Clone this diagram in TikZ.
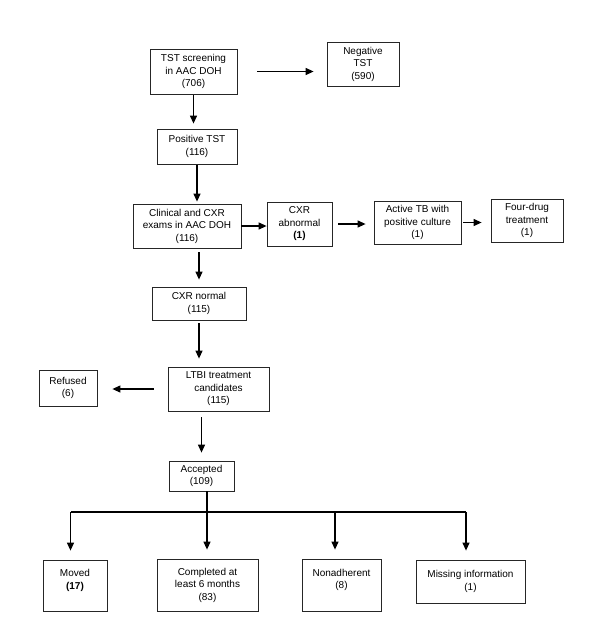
\documentclass[tikz,border=0pt]{standalone}
\usepackage{fontspec}
\setmainfont{Liberation Sans}
\usetikzlibrary{arrows.meta}

\begin{document}
\begin{tikzpicture}[x=1pt, y=-1pt,
  box/.style={draw=black!85, line width=0.8pt, align=center, inner sep=2pt,
    font=\fontsize{10}{12.5}\selectfont},
  arr/.style={line width=1.2pt, -{Triangle[length=8pt,width=7pt]}}]

\useasboundingbox (0,0) rectangle (605,640);

% Screening
\node[box, minimum width=87pt, minimum height=45pt] (tst) at (193.5,71.5) {TST screening\\in AAC DOH\\(706)};
\node[box, minimum width=72pt, minimum height=44pt] (neg) at (363,64) {Negative\\TST\\(590)};
\node[box, minimum width=80pt, minimum height=35pt] (pos) at (197,146.5) {Positive TST\\(116)};

% Exams
\node[box, minimum width=108pt, minimum height=44pt] (clin) at (187,226) {Clinical and CXR\\exams in AAC DOH\\(116)};
\node[box, minimum width=65pt, minimum height=44pt] (abn) at (299.5,224) {CXR\\abnormal\\\textbf{(1)}};
\node[box, minimum width=87pt, minimum height=43pt] (act) at (417.5,222.5) {Active TB with\\positive culture\\(1)};
\node[box, minimum width=72pt, minimum height=43pt] (four) at (527,220.5) {Four-drug\\treatment\\(1)};
\node[box, minimum width=94pt, minimum height=33pt] (norm) at (199,303.5) {CXR normal\\(115)};

% Treatment
\node[box, minimum width=101pt, minimum height=44pt] (ltbi) at (218.5,389) {LTBI treatment\\candidates\\(115)};
\node[box, minimum width=58pt, minimum height=36pt] (ref) at (68,388) {Refused\\(6)};
\node[box, minimum width=65pt, minimum height=30pt] (acc) at (201.5,476) {Accepted\\(109)};

% Outcomes
\node[box, minimum width=64pt, minimum height=51pt] (mov) at (75,585.5) {Moved\\\textbf{(17)}\\\mbox{}};
\node[box, minimum width=101pt, minimum height=52pt] (comp) at (207.5,585) {Completed at\\least 6 months\\(83)};
\node[box, minimum width=79pt, minimum height=52pt] (nona) at (341.5,585) {Nonadherent\\(8)\\\mbox{}};
\node[box, minimum width=109pt, minimum height=43pt] (miss) at (470.5,581.5) {Missing information\\(1)};

% Arrows
\draw[arr, shorten <=20pt, shorten >=13pt] (tst.east) -- (tst.east -| neg.west);
\draw[arr, shorten <=1pt, shorten >=5pt] (tst.south) -- (tst.south |- pos.north);
\draw[arr, shorten <=1pt, shorten >=2pt] (pos.south) -- (pos.south |- clin.north);
\draw[arr] (clin.east) -- (clin.east -| abn.west);
\draw[arr, shorten <=6pt, shorten >=8pt] (abn.east) -- (abn.east -| act.west);
\draw[arr, shorten <=2pt, shorten >=9pt] (act.east) -- (act.east -| four.west);
\draw[arr, shorten <=4pt, shorten >=7pt] (norm.north |- clin.south) -- (norm.north);
\draw[arr, shorten <=3pt, shorten >=8pt] (norm.south) -- (norm.south |- ltbi.north);
\draw[arr, shorten <=14pt, shorten >=15pt] (ltbi.west) -- (ltbi.west -| ref.east);
\draw[arr, shorten <=6pt, shorten >=8pt] (acc.north |- ltbi.south) -- (acc.north);

% Branches
\foreach \x/\n in {70.5/mov, 207/comp, 335/nona, 466/miss}
  \coordinate (b\n) at (\x,512);
\draw[line width=1.2pt] (bcomp |- acc.south) -- (bcomp);
\draw[line width=1.2pt] (bmov) -- (bmiss);
\foreach \n in {mov, comp, nona, miss}
  \draw[arr, shorten >=9pt] (b\n) -- (b\n |- \n.north);

\end{tikzpicture}
\end{document}
